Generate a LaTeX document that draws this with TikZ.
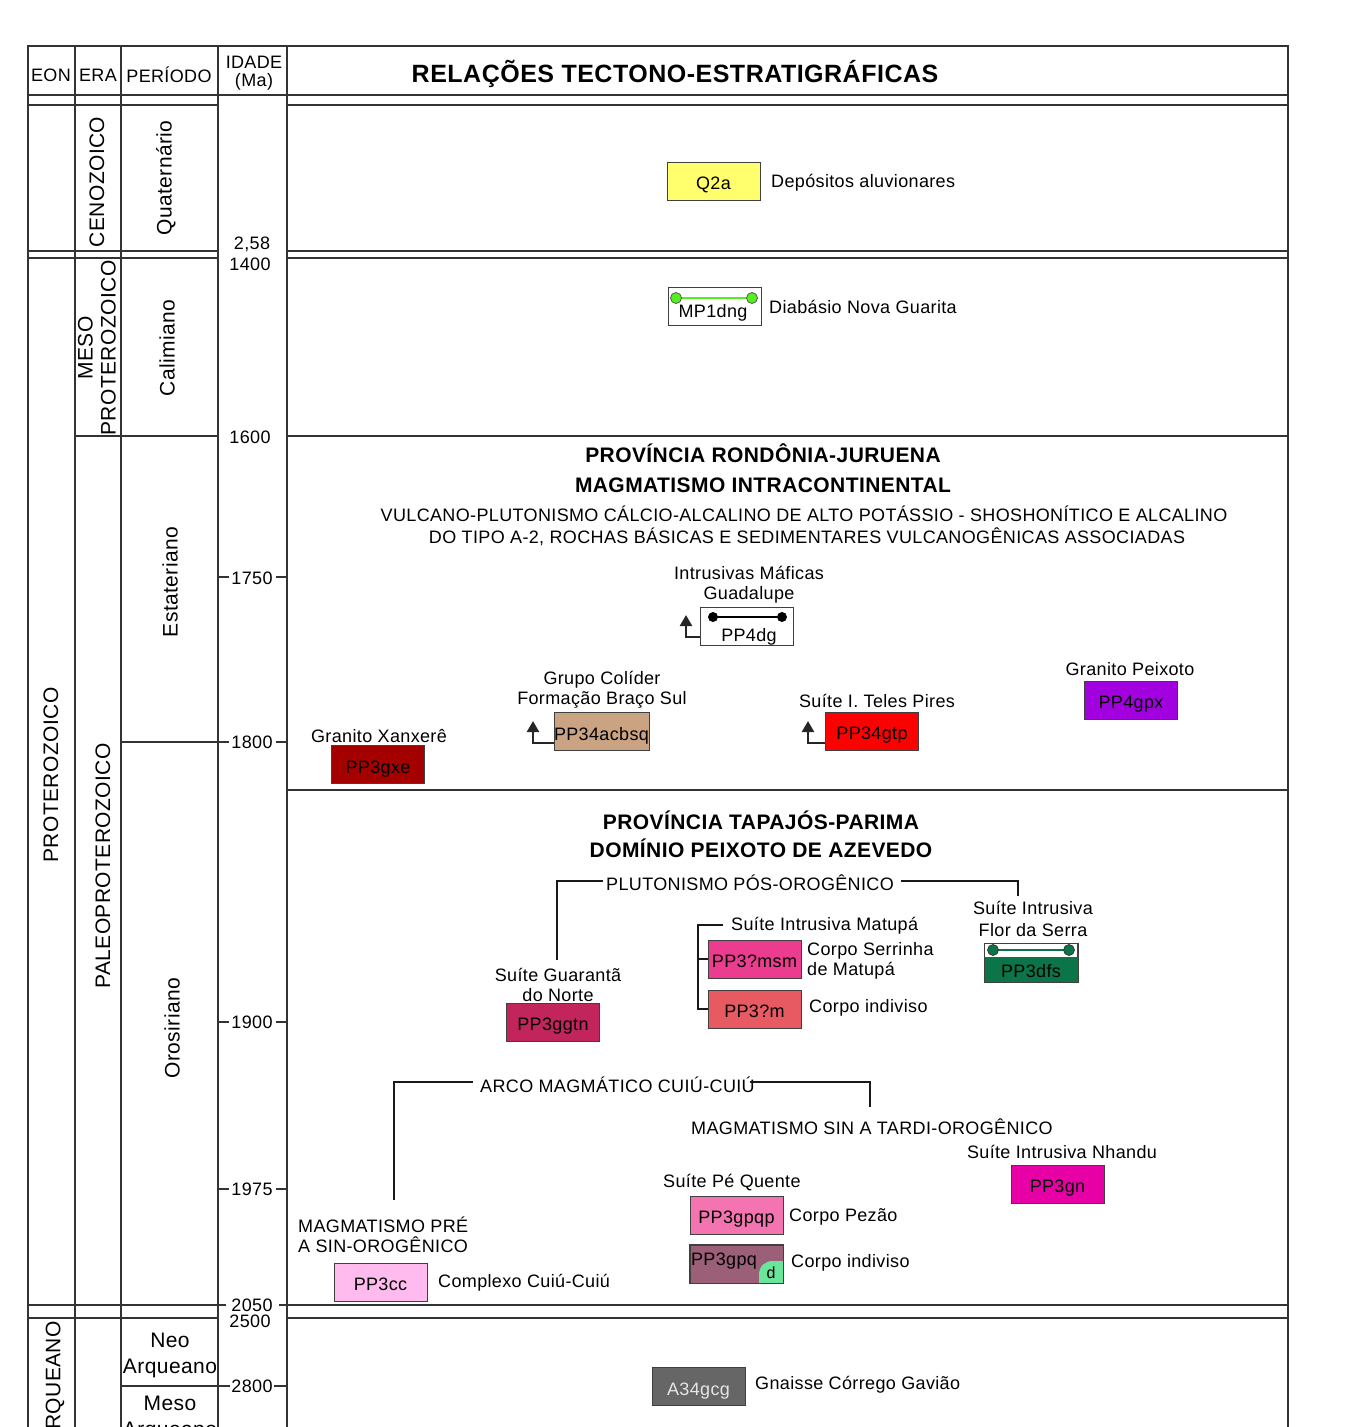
\documentclass[tikz,border=0pt]{standalone}
\usepackage{fontspec}
\setmainfont[LetterSpace=2]{Liberation Sans}
\usetikzlibrary{arrows.meta}

\definecolor{rule}{HTML}{333333}
\definecolor{cq}{HTML}{FFFF6E}
\definecolor{cacbsq}{HTML}{C9A382}
\definecolor{cgtp}{HTML}{FF0000}
\definecolor{cgxe}{HTML}{A50000}
\definecolor{cgpx}{HTML}{A300E0}
\definecolor{cggtn}{HTML}{C2255C}
\definecolor{cmsm}{HTML}{EC3C90}
\definecolor{cm}{HTML}{E85A62}
\definecolor{cdfs}{HTML}{0B7549}
\definecolor{cgn}{HTML}{E600A6}
\definecolor{cgpqp}{HTML}{F374B0}
\definecolor{cgpq}{HTML}{9B6078}
\definecolor{cd}{HTML}{6AE69A}
\definecolor{ccc}{HTML}{FFBBEE}
\definecolor{cgcg}{HTML}{666666}
\definecolor{dike}{HTML}{55EE22}

\tikzset{
  grid/.style={draw=rule, line width=1.3pt},
  unit/.style={draw=black!75, line width=0.8pt, minimum width=93pt, minimum height=38pt, inner sep=0pt, text height=17pt, text depth=0pt, font=\fontsize{18}{20}\selectfont},
  lbl/.style={inner sep=0pt, font=\fontsize{18}{20}\selectfont},
  head/.style={inner sep=0pt, font=\fontsize{21}{24}\selectfont\bfseries},
  rot/.style={rotate=90, inner sep=0pt, align=center, font=\fontsize{21}{23}\selectfont},
  brk/.style={draw=black!90, line width=2pt},
  upar/.style={draw=black!85, line width=2.4pt, -{Triangle[width=12pt,length=11pt]}}
}

\begin{document}
\begin{tikzpicture}[x=1pt,y=-1pt]
\useasboundingbox (0,0) rectangle (1358,1427);

% table frame
\draw[grid] (28,1427) -- (28,46) -- (1288,46) -- (1288,1427);
\foreach \x in {75,121,218,287}
  \draw[grid] (\x,46) -- (\x,1427);
\draw[grid] (28,95) -- (1288,95);
\draw[grid] (28,105) -- (218,105) (287,105) -- (1288,105);
\draw[grid] (28,251) -- (218,251) (287,251) -- (1288,251);
\draw[grid] (28,258) -- (218,258) (287,258) -- (1288,258);
\draw[grid] (75,436) -- (218,436) (287,436) -- (1288,436);
\draw[grid] (121,742) -- (229,742) (276,742) -- (287,742);
\draw[grid] (287,790) -- (1288,790);
\foreach \y in {577,1022,1189}
  \draw[grid] (218,\y) -- (229,\y) (276,\y) -- (287,\y);
\draw[grid] (28,1305) -- (226,1305) (279,1305) -- (1288,1305);
\draw[grid] (28,1318) -- (218,1318) (287,1318) -- (1288,1318);
\draw[grid] (121,1386) -- (230,1386) (274,1386) -- (287,1386);

% header
\node[lbl] (eon) at (51,75) {EON};
\node[lbl] (era) at (98,75) {ERA};
\node[lbl] (per) at (169,75) {PERÍODO};
\node[lbl, align=center, font=\fontsize{18}{18}\selectfont] (idade) at (254,73) {IDADE\\(Ma)};
\node[inner sep=0pt, font=\fontsize{25}{28}\selectfont\bfseries] (title) at (675,74) {RELAÇÕES TECTONO-ESTRATIGRÁFICAS};

% time column
\node[rot] (ceno) at (97,182) {CENOZOICO};
\node[rot] (quat) at (166,178) {Quaternário};
\node[rot] (meso) at (97,348) {MESO\\PROTEROZOICO};
\node[rot] (cali) at (167,348) {Calimiano};
\node[rot] (prot) at (51,775) {PROTEROZOICO};
\node[rot] (paleo) at (103,866) {PALEOPROTEROZOICO};
\node[rot] (esta) at (170,582) {Estateriano};
\node[rot] (oros) at (172,1028) {Orosiriano};
\node[rot, anchor=east] (arq) at (55,1321) {ARQUEANO};
\node[lbl, align=center, font=\fontsize{21}{26}\selectfont] (neo) at (170,1355) {Neo\\Arqueano};
\node[lbl, align=center, font=\fontsize{21}{26}\selectfont] (mesoa) at (170,1418) {Meso\\Arqueano};

\node[lbl] (a258) at (252,244) {2,58};
\node[lbl] (a1400) at (250,264) {1400};
\node[lbl] (a1600) at (250,437) {1600};
\node[lbl] (a1750) at (252,578) {1750};
\node[lbl] (a1800) at (252,742) {1800};
\node[lbl] (a1900) at (252,1022) {1900};
\node[lbl] (a1975) at (252,1189) {1975};
\node[lbl] (a2050) at (252,1305) {2050};
\node[lbl] (a2500) at (250,1321) {2500};
\node[lbl] (a2800) at (252,1386) {2800};

% cenozoic and mesoproterozoic units
\node[unit, fill=cq] (q2a) at (713.5,181) {Q2a};
\node[lbl, anchor=west] (q2alb) at (771,183) {Depósitos aluvionares};
\node[unit, fill=white] (mp1dng) at (714.5,306) {};
\node[lbl] (mp1txt) at (713,313) {MP1dng};
\draw[dike, line width=2pt] (676,298) -- (752,298);
\filldraw[fill=dike, draw=black!70, line width=0.7pt] (676,298) circle (5.5) (752,298) circle (5.5);
\node[lbl, anchor=west] (mp1lb) at (769,307) {Diabásio Nova Guarita};

% rondonia-juruena
\node[head] (rj1) at (763,453) {PROVÍNCIA RONDÔNIA-JURUENA};
\node[head] (rj2) at (763,485) {MAGMATISMO INTRACONTINENTAL};
\node[lbl] (rj3) at (804,514) {VULCANO-PLUTONISMO CÁLCIO-ALCALINO DE ALTO POTÁSSIO - SHOSHONÍTICO E ALCALINO};
\node[lbl] (rj4) at (807,537) {DO TIPO A-2, ROCHAS BÁSICAS E SEDIMENTARES VULCANOGÊNICAS ASSOCIADAS};

\node[lbl, align=center] (dglb) at (749,585) {Intrusivas Máficas\\Guadalupe};
\node[unit, fill=white] (pp4dg) at (747,626.5) {};
\node[lbl] (pp4dgtxt) at (749,637) {PP4dg};
\draw[black, line width=2pt] (713,617) -- (782,617);
\fill[black] (713,617) circle (5) (782,617) circle (5);

\node[lbl, align=center] (acbsqlb) at (602,690) {Grupo Colíder\\Formação Braço Sul};
\node[unit, fill=cacbsq] (pp34acbsq) at (601.5,731.5) {PP34acbsq};
\node[lbl] (gtplb) at (877,701) {Suíte I. Teles Pires};
\node[unit, fill=cgtp] (pp34gtp) at (872,731) {PP34gtp};
\node[lbl] (gxelb) at (379,736) {Granito Xanxerê};
\node[unit, fill=cgxe] (pp3gxe) at (378,764.5) {PP3gxe};
\node[lbl] (gpxlb) at (1130,669) {Granito Peixoto};
\node[unit, fill=cgpx] (pp4gpx) at (1131,700) {PP4gpx};

\coordinate (tipdg) at (686,615);
\coordinate (tipacb) at (533,721);
\coordinate (tipgtp) at (808,721);
\draw[upar] ([yshift=-10.5pt]pp4dg.west) -| (tipdg);
\draw[upar] ([yshift=-11.5pt]pp34acbsq.west) -| (tipacb);
\draw[upar] ([yshift=-12pt]pp34gtp.west) -| (tipgtp);

% tapajos-parima
\node[head] (tp1) at (761,820) {PROVÍNCIA TAPAJÓS-PARIMA};
\node[head] (tp2) at (761,848) {DOMÍNIO PEIXOTO DE AZEVEDO};

\node[lbl, anchor=west] (plut) at (606,883) {PLUTONISMO PÓS-OROGÊNICO};
\coordinate (gtntop) at (557,960);
\coordinate (dfstop) at (1018,896);
\draw[brk] (gtntop) |- ([xshift=-3pt,yshift=2pt]plut.west);
\draw[brk] ([xshift=7pt,yshift=2pt]plut.east) -| (dfstop);

\node[lbl, align=center] (gtnlb) at (558,985) {Suíte Guarantã\\do Norte};
\node[unit, fill=cggtn] (pp3ggtn) at (553,1022) {PP3ggtn};

\node[lbl, anchor=west] (matlb) at (731,926) {Suíte Intrusiva Matupá};
\node[unit, fill=cmsm] (msm) at (754.5,959) {PP3?msm};
\node[unit, fill=cm] (pm) at (754.5,1009) {PP3?m};
\draw[brk] ([xshift=-8pt,yshift=1pt]matlb.west) -| ([xshift=-10pt]pm.west) -- (pm.west);
\draw[brk] ([xshift=-10pt]msm.west) -- (msm.west);
\node[lbl, anchor=west, align=left] (msmlb) at (807,961) {Corpo Serrinha\\de Matupá};
\node[lbl, anchor=west] (pmlb) at (809,1008) {Corpo indiviso};

\node[lbl, align=center, font=\fontsize{18}{22}\selectfont] (dfslb) at (1033,919) {Suíte Intrusiva\\Flor da Serra};
\node[unit, fill=white] (pp3dfs) at (1031,962.5) {};
\fill[cdfs] (pp3dfs.south west) rectangle ([yshift=25pt]pp3dfs.south east);
\draw[black!75, line width=0.8pt] (pp3dfs.south west) rectangle (pp3dfs.north east);
\draw[cdfs, line width=2.4pt] (993,950) -- (1069,950);
\filldraw[fill=cdfs, draw=black!80, line width=0.7pt] (993,950) circle (5.5) (1069,950) circle (5.5);
\node[lbl] (dfstxt) at (1031,971) {PP3dfs};

\node[lbl, anchor=west] (arco) at (480,1085) {ARCO MAGMÁTICO CUIÚ-CUIÚ};
\coordinate (pretop) at (394,1200);
\coordinate (sintop) at (870,1107);
\draw[brk] (pretop) |- ([xshift=-7pt,yshift=3pt]arco.west);
\draw[brk] ([xshift=-5pt,yshift=3pt]arco.east) -| (sintop);

\node[lbl, anchor=west] (sinlb) at (691,1127) {MAGMATISMO SIN A TARDI-OROGÊNICO};
\node[lbl] (gnlb) at (1062,1152) {Suíte Intrusiva Nhandu};
\node[unit, fill=cgn] (pp3gn) at (1057.5,1184) {PP3gn};

\node[lbl, anchor=west] (pqlb) at (663,1183) {Suíte Pé Quente};
\node[unit, fill=cgpqp] (pp3gpqp) at (736.5,1215) {PP3gpqp};
\node[lbl, anchor=west] (gpqplb) at (789,1217) {Corpo Pezão};
\node[unit, fill=cgpq] (pp3gpq) at (736.5,1264) {};
\fill[cd] (759,1283) -- (759,1275) .. controls (759,1266) and (765,1261) .. (773,1261) -- (783,1261) -- (783,1283) -- cycle;
\draw[black!75, line width=0.8pt] (pp3gpq.south west) rectangle (pp3gpq.north east);
\node[lbl] (gpqtxt) at (724,1261) {PP3gpq};
\node[lbl, font=\fontsize{16}{18}\selectfont] (dtxt) at (771,1273) {d};
\node[lbl, anchor=west] (gpqlb) at (791,1263) {Corpo indiviso};

\node[lbl, anchor=west, align=left] (prelb) at (298,1235) {MAGMATISMO PRÉ\\A SIN-OROGÊNICO};
\node[unit, fill=ccc] (pp3cc) at (380.5,1282) {PP3cc};
\node[lbl, anchor=west] (cclb) at (438,1283) {Complexo Cuiú-Cuiú};

% archean
\node[unit, fill=cgcg, text=black!10] (a34gcg) at (698.5,1386.5) {A34gcg};
\node[lbl, anchor=west] (gcglb) at (755,1385) {Gnaisse Córrego Gavião};
\end{tikzpicture}
\end{document}
